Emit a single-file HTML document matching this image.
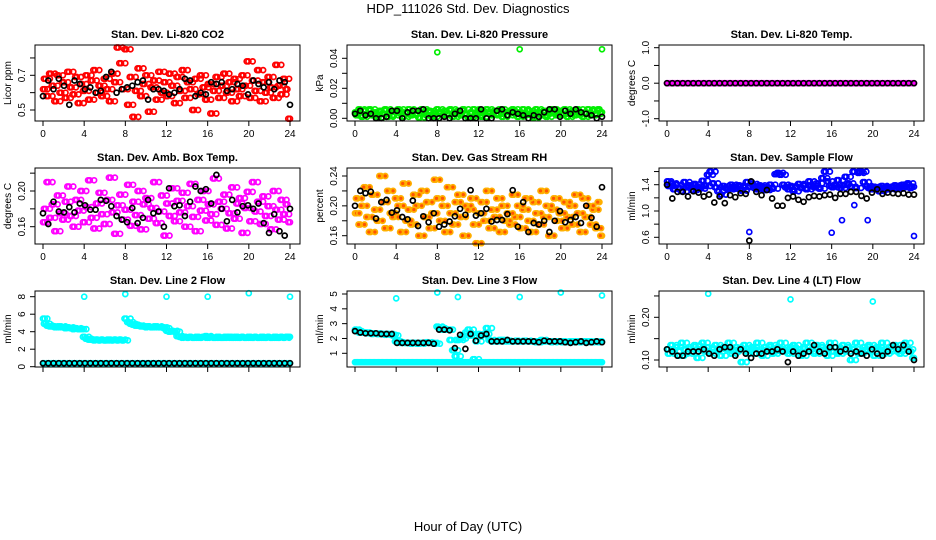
<!DOCTYPE html>
<html><head><meta charset="utf-8"><style>
body{margin:0;background:#fff;width:936px;height:540px;overflow:hidden}
svg{display:block;font-family:"Liberation Sans",sans-serif}
</style></head><body>
<svg id="chart" width="936" height="540" viewBox="0 0 936 540">
<text x="468" y="13" font-size="13" text-anchor="middle">HDP_111026  Std. Dev. Diagnostics</text>
<text x="468" y="531" font-size="13" text-anchor="middle">Hour of Day (UTC)</text>
</svg>
<script>
// ---- data ----
const co2Cloud=[0.62,0.68,0.58,0.71,0.64,0.55,0.70,0.60,0.66,0.57,0.72,0.63,0.59,0.69,0.54,0.65,0.61,0.70,0.56,0.67,0.73,0.60,0.64,0.58,0.68,0.62,0.55,0.71,0.66,0.86,0.77,0.62,0.85,0.53,0.69,0.46,0.61,0.74,0.58,0.65,0.70,0.49,0.63,0.67,0.56,0.72,0.60,0.66,0.58,0.71,0.64,0.54,0.69,0.61,0.73,0.57,0.66,0.62,0.50,0.68,0.59,0.70,0.63,0.56,0.65,0.48,0.61,0.69,0.57,0.64,0.71,0.60,0.66,0.55,0.68,0.62,0.58,0.70,0.64,0.78,0.57,0.67,0.61,0.73,0.55,0.66,0.60,0.69,0.63,0.57,0.76,0.64,0.59,0.68,0.62,0.45];
const co2Black=[0.58,0.67,0.62,0.68,0.64,0.53,0.67,0.65,0.62,0.63,0.60,0.61,0.69,0.72,0.60,0.62,0.63,0.64,0.66,0.67,0.56,0.62,0.62,0.61,0.59,0.60,0.62,0.68,0.67,0.58,0.60,0.59,0.66,0.65,0.66,0.61,0.62,0.65,0.64,0.59,0.67,0.65,0.63,0.66,0.62,0.67,0.66,0.53];
const presCloud=[0.004,0.002,0.006,0.001,0.005,0.003,0.006,0.002,0.004,0.0005,0.005,0.003,0.006,0.001,0.004,0.002,0.005,0.006,0.003,0.001,0.004,0.006,0.002,0.005,0.003,0.0005,0.006,0.004,0.002,0.005,0.001,0.003,0.006,0.004,0.002,0.005,0.003,0.006,0.001,0.004,0.005,0.002,0.006,0.003,0.0005,0.004,0.006,0.002,0.005,0.001,0.003,0.006,0.004,0.002,0.005,0.003,0.006,0.001,0.004,0.002,0.005,0.006,0.003,0.001,0.004,0.006,0.002,0.005,0.003,0.0005,0.006,0.004,0.002,0.005,0.001,0.003,0.006,0.004,0.002,0.005,0.003,0.006,0.001,0.004,0.005,0.002,0.006,0.003,0.001,0.004,0.006,0.002,0.005,0.003,0.006,0.004];
const presBlack=[0.003,0.005,0.002,0.003,0.000,0.000,0.001,0.005,0.005,0.000,0.004,0.005,0.005,0.006,0.000,0.000,0.000,0.001,0.000,0.003,0.005,0.000,0.000,0.000,0.006,0.000,0.000,0.005,0.006,0.002,0.004,0.003,0.002,0.000,0.002,0.001,0.004,0.006,0.006,0.001,0.005,0.003,0.006,0.004,0.003,0.002,0.000,0.001];
const presOutHours=[8,16,24];
const presOutValues=[0.044,0.046,0.046];
const tempCloud=[0,0,0,0,0,0,0,0,0,0,0,0,0,0,0,0,0,0,0,0,0,0,0,0,0,0,0,0,0,0,0,0,0,0,0,0,0,0,0,0,0,0,0,0,0,0,0,0,0,0,0,0,0,0,0,0,0,0,0,0,0,0,0,0,0,0,0,0,0,0,0,0,0,0,0,0];
const tempBlack=[0,0,0,0,0,0,0,0,0,0,0,0,0,0,0,0,0,0,0,0,0,0,0,0,0,0,0,0,0,0,0,0,0,0,0,0,0,0,0,0,0,0,0,0,0,0,0,0];
const boxCloud=[0.165,0.18,0.21,0.17,0.185,0.155,0.195,0.175,0.168,0.188,0.205,0.172,0.16,0.19,0.178,0.2,0.165,0.182,0.212,0.17,0.158,0.186,0.198,0.174,0.163,0.19,0.215,0.176,0.152,0.184,0.196,0.168,0.179,0.207,0.161,0.188,0.173,0.2,0.157,0.185,0.192,0.169,0.181,0.21,0.164,0.177,0.195,0.15,0.186,0.172,0.203,0.166,0.189,0.176,0.198,0.16,0.183,0.208,0.171,0.155,0.19,0.178,0.2,0.167,0.185,0.174,0.214,0.162,0.188,0.18,0.196,0.158,0.175,0.204,0.169,0.186,0.192,0.153,0.181,0.199,0.166,0.21,0.177,0.188,0.163,0.194,0.172,0.183,0.157,0.2,0.179,0.168,0.19,0.174,0.185,0.165];
const boxBlack=[0.175,0.163,0.188,0.177,0.176,0.182,0.176,0.186,0.184,0.179,0.179,0.19,0.189,0.183,0.172,0.168,0.165,0.181,0.164,0.17,0.19,0.175,0.177,0.16,0.203,0.183,0.184,0.172,0.188,0.205,0.2,0.202,0.186,0.218,0.18,0.166,0.19,0.176,0.183,0.184,0.18,0.186,0.164,0.153,0.174,0.155,0.15,0.18];
const rhCloud=[0.19,0.21,0.175,0.2,0.225,0.185,0.165,0.215,0.195,0.18,0.24,0.205,0.17,0.22,0.19,0.185,0.21,0.2,0.165,0.23,0.18,0.195,0.175,0.215,0.2,0.16,0.22,0.185,0.205,0.17,0.19,0.235,0.21,0.18,0.2,0.165,0.225,0.19,0.175,0.205,0.215,0.185,0.16,0.2,0.195,0.21,0.175,0.15,0.19,0.205,0.18,0.22,0.17,0.195,0.185,0.21,0.165,0.2,0.18,0.19,0.175,0.215,0.185,0.2,0.17,0.195,0.21,0.18,0.165,0.205,0.19,0.175,0.22,0.185,0.2,0.16,0.195,0.21,0.18,0.19,0.17,0.205,0.185,0.2,0.175,0.215,0.19,0.165,0.21,0.185,0.2,0.175,0.195,0.17,0.205,0.16];
const rhBlack=[0.2,0.22,0.217,0.219,0.183,0.205,0.208,0.191,0.194,0.185,0.182,0.207,0.173,0.186,0.178,0.19,0.172,0.175,0.179,0.186,0.196,0.188,0.221,0.187,0.19,0.196,0.179,0.181,0.181,0.189,0.221,0.172,0.205,0.165,0.177,0.175,0.18,0.165,0.18,0.193,0.178,0.181,0.185,0.177,0.2,0.184,0.172,0.225];
const flowCloud=[1.45,1.38,1.42,1.33,1.40,1.35,1.30,1.44,1.36,1.39,1.32,1.41,1.37,1.34,1.46,1.38,1.55,1.60,1.42,1.36,1.30,1.25,1.38,1.35,1.33,1.40,1.37,1.34,1.39,1.31,1.36,1.44,1.38,1.41,1.35,1.33,1.39,1.37,1.32,1.36,1.40,1.34,1.56,1.58,1.55,1.40,1.36,1.33,1.38,1.30,1.37,1.41,1.35,1.39,1.33,1.45,1.38,1.36,1.42,1.34,1.50,1.60,1.45,1.38,1.36,1.40,1.47,1.35,1.39,1.52,1.42,1.37,1.60,1.35,1.58,1.60,1.44,1.38,1.35,1.33,1.37,1.34,1.30,1.38,1.35,1.36,1.33,1.37,1.39,1.34,1.36,1.40,1.38,1.42,1.35,1.37];
const flowBlack=[1.40,1.19,1.29,1.29,1.22,1.30,1.28,1.22,1.25,1.13,1.22,1.12,1.24,1.21,1.27,1.26,1.45,1.29,1.24,1.32,1.19,1.08,1.08,1.20,1.22,1.17,1.14,1.21,1.23,1.22,1.24,1.25,1.20,1.26,1.26,1.29,1.29,1.23,1.19,1.28,1.33,1.26,1.28,1.27,1.26,1.27,1.25,1.25];
const flowOutHours=[8,16,17,18.2,19.5,24];
const flowOutValues=[0.68,0.67,0.86,1.09,0.86,0.62];
const flowBlackOutHours=[8];
const flowBlackOutValues=[0.55];
const l2Upper=[5.5,4.9,4.7,4.6,4.6,4.5,4.5,4.6,4.5,4.4,4.5,4.4,4.3,4.4,4.3,4.3,3.4,3.2,3.1,3.1,3.0,3.1,3.0,3.1,3.0,3.0,3.1,3.0,3.1,3.0,3.1,3.0,5.5,5.1,4.9,4.8,4.7,4.7,4.6,4.6,4.5,4.6,4.5,4.5,4.6,4.5,4.5,4.4,4.1,4.0,4.1,4.0,3.5,3.4,3.3,3.4,3.3,3.4,3.3,3.3,3.4,3.3,3.4,3.5,3.3,3.4,3.3,3.3,3.4,3.3,3.3,3.4,3.4,3.3,3.3,3.4,3.3,3.4,3.3,3.3,3.4,3.3,3.4,3.3,3.3,3.4,3.3,3.4,3.3,3.3,3.4,3.3,3.4,3.3,3.4,3.4];
const l2Base=[0.4,0.4,0.4,0.4,0.4,0.4,0.4,0.4,0.4,0.4,0.4,0.4,0.4,0.4,0.4,0.4,0.4,0.4,0.4,0.4,0.4,0.4,0.4,0.4,0.4,0.4,0.4,0.4,0.4,0.4,0.4,0.4,0.4,0.4,0.4,0.4,0.4,0.4,0.4,0.4,0.4,0.4,0.4,0.4,0.4,0.4,0.4,0.4];
const l2Black=[0.4,0.4,0.4,0.4,0.4,0.4,0.4,0.4,0.4,0.4,0.4,0.4,0.4,0.4,0.4,0.4,0.4,0.4,0.4,0.4,0.4,0.4,0.4,0.4,0.4,0.4,0.4,0.4,0.4,0.4,0.4,0.4,0.4,0.4,0.4,0.4,0.4,0.4,0.4,0.4,0.4,0.4,0.4,0.4,0.4,0.4,0.4,0.4];
const l2OutHours=[4,8,12,16,20,24];
const l2OutValues=[8.0,8.3,8.0,8.0,8.4,8.0];
const l3Upper=[2.6,2.5,2.4,2.4,2.4,2.35,2.35,2.3,2.35,2.3,2.3,2.3,2.25,2.3,2.25,2.2,1.8,1.75,1.7,1.7,1.7,1.7,1.65,1.7,1.7,1.65,1.7,1.7,1.75,1.7,1.7,1.65,2.8,2.7,2.6,2.6,2.6,1.9,1.2,0.8,1.9,2.0,2.2,2.4,2.6,2.2,0.6,1.8,2.3,2.2,2.3,2.7,1.9,1.8,1.8,1.8,1.9,1.9,1.8,1.8,1.85,1.8,1.8,1.85,1.8,1.8,1.85,1.8,1.8,1.8,1.75,1.8,1.9,1.8,1.8,1.8,1.75,1.8,1.8,1.8,1.75,1.8,1.75,1.8,1.8,1.75,1.8,1.75,1.8,1.8,1.75,1.8,1.75,1.8,1.75,1.8];
const l3Base=[0.4,0.4,0.4,0.4,0.4,0.4,0.4,0.4,0.4,0.4,0.4,0.4,0.4,0.4,0.4,0.4,0.4,0.4,0.4,0.4,0.4,0.4,0.4,0.4,0.4,0.4,0.4,0.4,0.4,0.4,0.4,0.4,0.4,0.4,0.4,0.4,0.4,0.4,0.4,0.4,0.4,0.4,0.4,0.4,0.4,0.4,0.4,0.4,0.4,0.4,0.4,0.4,0.4,0.4,0.4,0.4,0.4,0.4,0.4,0.4,0.4,0.4,0.4,0.4];
const l3Black=[2.5,2.4,2.35,2.35,2.35,2.3,2.3,2.3,1.7,1.7,1.7,1.7,1.7,1.7,1.7,1.65,2.6,2.6,2.55,1.35,2.25,1.3,2.3,1.85,2.2,2.3,1.8,1.8,1.8,1.9,1.8,1.8,1.8,1.8,1.8,1.75,1.85,1.8,1.8,1.8,1.75,1.7,1.75,1.8,1.7,1.75,1.8,1.75];
const l3OutHours=[4,8,10,16,20,24];
const l3OutValues=[4.7,5.1,4.8,4.8,5.1,4.9];
const l4Cloud=[0.125,0.115,0.135,0.12,0.13,0.11,0.14,0.125,0.115,0.13,0.12,0.135,0.105,0.125,0.14,0.12,0.13,0.115,0.125,0.135,0.12,0.11,0.13,0.125,0.14,0.115,0.12,0.13,0.125,0.095,0.135,0.12,0.115,0.13,0.125,0.14,0.12,0.11,0.13,0.125,0.135,0.115,0.12,0.13,0.14,0.125,0.12,0.115,0.13,0.135,0.12,0.125,0.11,0.13,0.14,0.12,0.125,0.115,0.135,0.12,0.13,0.125,0.11,0.14,0.12,0.13,0.115,0.125,0.135,0.12,0.13,0.1,0.125,0.14,0.115,0.12,0.13,0.125,0.135,0.12,0.11,0.13,0.125,0.14,0.115,0.12,0.13,0.125,0.135,0.12,0.115,0.13,0.14,0.125,0.12,0.105];
const l4Black=[0.125,0.12,0.11,0.11,0.12,0.12,0.12,0.125,0.115,0.11,0.125,0.13,0.13,0.11,0.125,0.115,0.105,0.115,0.115,0.12,0.12,0.125,0.12,0.095,0.12,0.11,0.115,0.12,0.135,0.12,0.115,0.13,0.13,0.12,0.125,0.115,0.12,0.115,0.11,0.125,0.115,0.11,0.12,0.135,0.125,0.135,0.12,0.1];
const l4OutHours=[4,12,20];
const l4OutValues=[0.255,0.242,0.237];
const xTicks=[0,4,8,12,16,20,24];

// ---- layout ----
const NS='http://www.w3.org/2000/svg';
const svg=document.getElementById('chart');
function mk(tag,attrs,parent,text){const e=document.createElementNS(NS,tag);for(const k in attrs)e.setAttribute(k,attrs[k]);if(text!==undefined)e.textContent=text;(parent||svg).appendChild(e);return e;}
const colLeft=[35,347,659],rowTop=[45,168,291],BW=265,BH=76;

const panels=[
 {name:'co2',title:'Stan. Dev. Li-820 CO2',ylab:'Licor ppm',col:0,row:0,cal:[0.5,65,0.7,30.3],ticks:[0.5,0.6,0.7,0.8],labels:['0.5','','0.7',''],xl:true,
  series:[{v:co2Cloud,c:'#ff0000',dense:true},{v:co2Black,c:'#000'}]},
 {name:'pressure',title:'Stan. Dev. Li-820 Pressure',ylab:'kPa',col:1,row:0,cal:[0,73.3,0.04,13.3],ticks:[0,0.01,0.02,0.03,0.04],labels:['0.00','','0.02','','0.04'],xl:true,
  series:[{v:presCloud,c:'#00ee00',dense:true},{v:presBlack,c:'#000'},{h:presOutHours,v:presOutValues,c:'#00ee00'}]},
 {name:'licor-temp',title:'Stan. Dev. Li-820 Temp.',ylab:'degrees C',col:2,row:0,cal:[-1,73.7,1,2.7],ticks:[-1,-0.5,0,0.5,1],labels:['-1.0','','0.0','','1.0'],xl:true,
  series:[{v:tempCloud,c:'#ff00ff',dense:true},{v:tempBlack,c:'#000'}]},
 {name:'box-temp',title:'Stan. Dev. Amb. Box Temp.',ylab:'degrees C',col:0,row:1,cal:[0.16,58.7,0.20,23],ticks:[0.16,0.18,0.20,0.22],labels:['0.16','','0.20',''],xl:true,
  series:[{v:boxCloud,c:'#ff00ff',dense:true},{v:boxBlack,c:'#000'}]},
 {name:'rh',title:'Stan. Dev. Gas Stream RH',ylab:'percent',col:1,row:1,cal:[0.16,67.7,0.24,8],ticks:[0.16,0.18,0.20,0.22,0.24],labels:['0.16','','0.20','','0.24'],xl:true,
  series:[{v:rhCloud,c:'#ffb000',f:'#ff5500',dense:true},{v:rhBlack,c:'#000'}]},
 {name:'sample-flow',title:'Stan. Dev. Sample Flow',ylab:'ml/min',col:2,row:1,cal:[0.6,69.3,1.4,16.7],ticks:[0.6,0.8,1.0,1.2,1.4,1.6],labels:['0.6','','1.0','','1.4',''],xl:true,
  series:[{v:flowCloud,c:'#0000ff',dense:true},{h:flowOutHours,v:flowOutValues,c:'#0000ff'},{v:flowBlack,c:'#000'},{h:flowBlackOutHours,v:flowBlackOutValues,c:'#000'}]},
 {name:'line2-flow',title:'Stan. Dev. Line 2 Flow',ylab:'ml/min',col:0,row:2,cal:[0,75.7,8,5.7],ticks:[0,2,4,6,8],labels:['0','2','4','6','8'],xl:false,
  series:[{v:l2Upper,c:'#00ffff',dense:true},{v:l2Base,c:'#00ffff',dense:true},{v:l2Black,c:'#000'},{h:l2OutHours,v:l2OutValues,c:'#00ffff'}]},
 {name:'line3-flow',title:'Stan. Dev. Line 3 Flow',ylab:'ml/min',col:1,row:2,cal:[1,62.3,5,3],ticks:[1,2,3,4,5],labels:['1','2','3','4','5'],xl:false,
  series:[{v:l3Base,c:'#00ffff',dense:true},{v:l3Upper,c:'#00ffff',dense:true},{v:l3Black,c:'#000'},{h:l3OutHours,v:l3OutValues,c:'#00ffff'}]},
 {name:'line4-flow',title:'Stan. Dev. Line 4 (LT) Flow',ylab:'ml/min',col:2,row:2,cal:[0.10,69,0.20,26.3],ticks:[0.10,0.15,0.20,0.25],labels:['0.10','','0.20',''],xl:false,
  series:[{v:l4Cloud,c:'#00ffff',dense:true},{v:l4Black,c:'#000'},{h:l4OutHours,v:l4OutValues,c:'#00ffff'}]}
];

panels.forEach(p=>{
  const L=colLeft[p.col],T=rowTop[p.row];
  const g=mk('g',{});
  
  
  const xs=h=>L+8+h*(247/24);
  const [v1,p1,v2,p2]=p.cal;
  const ys=v=>T+p1+(v-v1)*(p2-p1)/(v2-v1);
  const t=mk('text',{x:L+BW/2,y:T-7,'font-size':11,'font-weight':'bold','text-anchor':'middle'},g,p.title);
  
  
  const yl=mk('text',{transform:`translate(${L-24},${T+BH/2}) rotate(-90)`,'font-size':10,'text-anchor':'middle'},g,p.ylab);
  
  
  p.series.forEach(s=>{
    const n=s.v.length;
    const passes=s.dense?3:1;
    for(let k=0;k<passes;k++){
      s.v.forEach((val,i)=>{
        let h=s.h?s.h[i]:24*i/(n-1);
        if(k>0){ if(i>=n-1) return; h=24*(i+k/3)/(n-1); val=(k===1)?s.v[i+1]:s.v[Math.max(0,i-1)]; }
        const c=mk('circle',{cx:xs(h).toFixed(1),cy:ys(val).toFixed(1),r:2.5,fill:s.f||'none',stroke:s.c,'stroke-width':1.7},g);
        
        
      });
    }
  });
  const box=mk('rect',{x:L,y:T,width:BW,height:BH,fill:'none',stroke:'#000','stroke-width':1},g);
  
  
  mk('line',{x1:xs(0),x2:xs(24),y1:T+BH,y2:T+BH,stroke:'#000'},g);
  xTicks.forEach(h=>{
    mk('line',{x1:xs(h),x2:xs(h),y1:T+BH,y2:T+BH+5,stroke:'#000'},g);
    if(p.xl){const tl=mk('text',{x:xs(h),y:T+BH+16,'font-size':10,'text-anchor':'middle'},g,String(h));
      
      }
  });
  p.ticks.forEach((v,i)=>{
    const y=ys(v);
    mk('line',{x1:L-5,x2:L,y1:y,y2:y,stroke:'#000'},g);
    if(p.labels[i]){const tl=mk('text',{transform:`translate(${L-10},${y}) rotate(-90)`,'font-size':10,'text-anchor':'middle'},g,p.labels[i]);
      
      }
  });
});
</script>
</body></html>
